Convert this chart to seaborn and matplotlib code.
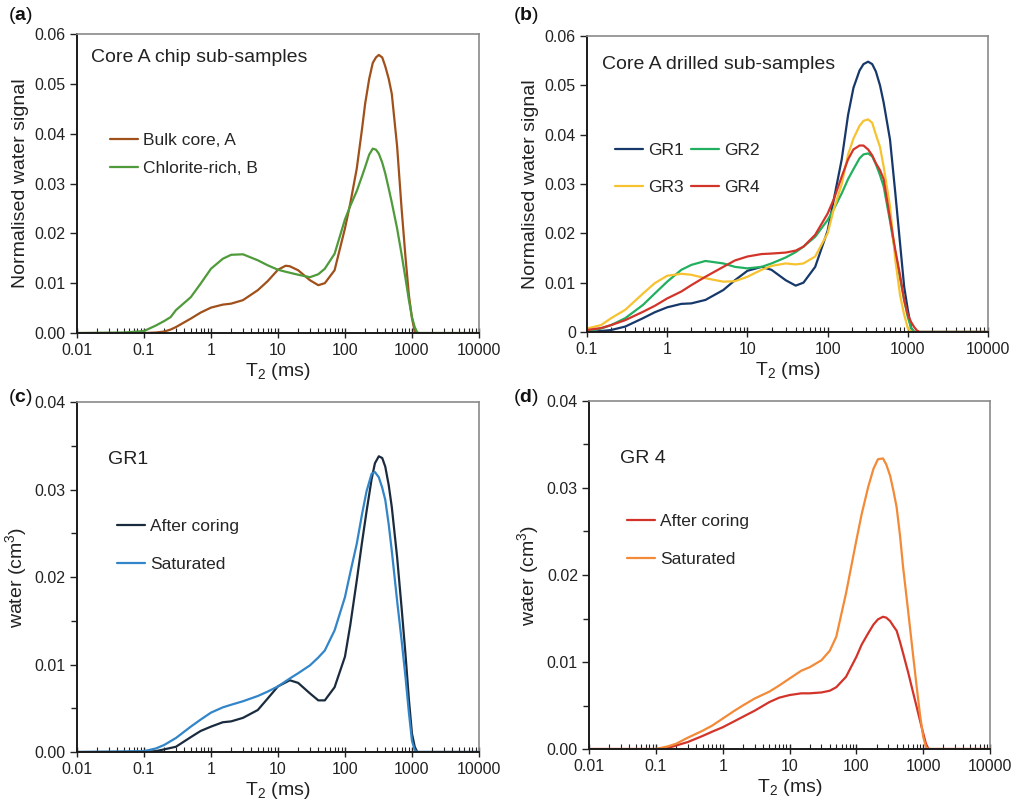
import numpy as np
import pandas as pd
import matplotlib
matplotlib.use("Agg")
import matplotlib.pyplot as plt
from matplotlib.ticker import LogLocator, NullFormatter, MultipleLocator
import seaborn as sns

# (a) chip sub-samples
t2_a = [0.01, 0.05, 0.1, 0.15, 0.2, 0.25, 0.3, 0.5, 0.7, 1, 1.5, 2, 3, 5, 7, 10, 13, 15, 20, 30, 40, 50,
        70, 100, 120, 150, 180, 200, 230, 260, 290, 320, 360, 400, 450, 500, 600, 700, 800, 900, 1000,
        1100, 1200, 1300, 10000]
bulk_a = [0, 0, 0, 0.0001, 0.0003, 0.0007, 0.0012, 0.0029, 0.0041, 0.0051, 0.0057, 0.0059, 0.0066, 0.0086,
          0.0104, 0.0127, 0.0135, 0.0134, 0.0126, 0.0106, 0.0096, 0.0100, 0.0126, 0.0210, 0.0260, 0.0330,
          0.0410, 0.0460, 0.0510, 0.0542, 0.0553, 0.0558, 0.0553, 0.0535, 0.0510, 0.0480, 0.0375, 0.0250,
          0.0153, 0.0076, 0.0030, 0.0003, 0, 0, 0]
chlorite_b = [0, 0.0001, 0.0004, 0.0015, 0.0024, 0.0032, 0.0046, 0.0072, 0.0099, 0.0129, 0.0149, 0.0157,
              0.0158, 0.0146, 0.0136, 0.0127, 0.0123, 0.0121, 0.0117, 0.0112, 0.0118, 0.0129, 0.0159,
              0.0228, 0.0255, 0.0285, 0.0315, 0.0333, 0.0358, 0.0370, 0.0368, 0.0360, 0.0342, 0.0320,
              0.0290, 0.0262, 0.0210, 0.0158, 0.0110, 0.0066, 0.0032, 0.0012, 0.0001, 0, 0]

# (b) drilled sub-samples
t2_b = [0.1, 0.15, 0.2, 0.3, 0.5, 0.7, 1, 1.5, 2, 3, 5, 7, 10, 15, 20, 30, 40, 50, 70, 100, 120, 150,
        180, 210, 250, 280, 320, 360, 400, 450, 500, 600, 700, 800, 900, 1000, 1100, 1200, 1300, 1400, 10000]
gr1 = [0, 0.0002, 0.0004, 0.0011, 0.0028, 0.0040, 0.0050, 0.0057, 0.0058, 0.0065, 0.0085, 0.0105, 0.0124,
       0.0132, 0.0126, 0.0105, 0.0094, 0.0100, 0.0132, 0.0205, 0.0270, 0.0350, 0.0440, 0.0495, 0.0530,
       0.0543, 0.0548, 0.0543, 0.0528, 0.0500, 0.0465, 0.0390, 0.0280, 0.0180, 0.0092, 0.0045, 0.0008,
       0, 0, 0, 0]
gr2 = [0.0002, 0.0007, 0.0014, 0.0028, 0.0055, 0.0078, 0.0102, 0.0126, 0.0136, 0.0144, 0.0139, 0.0132,
       0.0129, 0.0132, 0.0139, 0.0151, 0.0162, 0.0173, 0.0193, 0.0227, 0.0250, 0.0281, 0.0310, 0.0330,
       0.0352, 0.0360, 0.0362, 0.0356, 0.0340, 0.0318, 0.0295, 0.0225, 0.0160, 0.0110, 0.0065, 0.0030,
       0.0008, 0, 0, 0, 0]
gr3 = [0.0007, 0.0014, 0.0028, 0.0045, 0.0078, 0.0099, 0.0114, 0.0118, 0.0116, 0.0109, 0.0102, 0.0103,
       0.0112, 0.0126, 0.0134, 0.0139, 0.0137, 0.0139, 0.0153, 0.0200, 0.0250, 0.0300, 0.0360, 0.0392,
       0.0418, 0.0428, 0.0431, 0.0424, 0.0400, 0.0375, 0.0335, 0.0254, 0.0145, 0.0075, 0.0035, 0.0008,
       0, 0, 0, 0, 0]
gr4 = [0.0004, 0.0008, 0.0014, 0.0024, 0.0041, 0.0053, 0.0068, 0.0082, 0.0095, 0.0112, 0.0132, 0.0145,
       0.0153, 0.0158, 0.0159, 0.0161, 0.0165, 0.0173, 0.0197, 0.0240, 0.0270, 0.0315, 0.0350, 0.0370,
       0.0378, 0.0378, 0.0370, 0.0358, 0.0342, 0.0328, 0.0310, 0.0230, 0.0165, 0.0115, 0.0065, 0.0035,
       0.0020, 0.0010, 0.0003, 0, 0]

# (c) GR1 and (d) GR4, water volume
t2_cd = [0.01, 0.1, 0.15, 0.2, 0.3, 0.5, 0.7, 1, 1.5, 2, 3, 5, 7, 10, 15, 20, 30, 40, 50, 70, 100, 120,
         150, 180, 210, 250, 280, 320, 360, 400, 450, 500, 600, 700, 800, 900, 1000, 1100, 1200, 10000]
gr1_after = [0, 0, 0.0001, 0.0003, 0.0006, 0.0017, 0.0024, 0.0029, 0.0034, 0.0035, 0.0039, 0.0048, 0.0061,
             0.0075, 0.0082, 0.0079, 0.0067, 0.0059, 0.0059, 0.0074, 0.0109, 0.0145, 0.0196, 0.0240,
             0.0275, 0.0312, 0.0330, 0.0338, 0.0336, 0.0326, 0.0305, 0.0280, 0.0223, 0.0165, 0.0112,
             0.0060, 0.0021, 0.0006, 0, 0]
gr1_sat = [0, 0.0001, 0.0004, 0.0008, 0.0016, 0.0029, 0.0037, 0.0045, 0.0051, 0.0054, 0.0058, 0.0064,
           0.0069, 0.0075, 0.0084, 0.0090, 0.0099, 0.0108, 0.0116, 0.0139, 0.0177, 0.0205, 0.0238, 0.0272,
           0.0298, 0.0318, 0.0320, 0.0314, 0.0302, 0.0288, 0.0260, 0.0230, 0.0173, 0.0128, 0.0086, 0.0045,
           0.0013, 0.0002, 0, 0]
gr4_after = [0, 0, 0.0001, 0.0004, 0.0008, 0.0015, 0.0020, 0.0025, 0.0032, 0.0037, 0.0044, 0.0054, 0.0059,
             0.0062, 0.0064, 0.0064, 0.0065, 0.0067, 0.0071, 0.0083, 0.0106, 0.0120, 0.0133, 0.0143,
             0.0149, 0.0152, 0.0151, 0.0147, 0.0141, 0.0136, 0.0123, 0.0110, 0.0087, 0.0066, 0.0048,
             0.0032, 0.0018, 0.0006, 0, 0]
gr4_sat = [0, 0, 0.0003, 0.0006, 0.0013, 0.0021, 0.0027, 0.0035, 0.0044, 0.0050, 0.0058, 0.0066, 0.0073,
           0.0081, 0.0090, 0.0094, 0.0102, 0.0113, 0.0129, 0.0179, 0.0240, 0.0270, 0.0301, 0.0322, 0.0333,
           0.0334, 0.0327, 0.0314, 0.0296, 0.0278, 0.0245, 0.0209, 0.0156, 0.0110, 0.0071, 0.0038, 0.0014,
           0.0002, 0, 0]

sns.set_theme(style="ticks")
plt.rcParams['font.family'] = ['Liberation Sans', 'DejaVu Sans']
plt.rcParams['mathtext.fontset'] = 'custom'
plt.rcParams['mathtext.rm'] = 'Liberation Sans'
plt.rcParams['mathtext.it'] = 'Liberation Sans:italic'
plt.rcParams['mathtext.bf'] = 'Liberation Sans:bold'

fig = plt.figure(figsize=(10.21, 8.06), dpi=100)
ax_a = fig.add_axes([0.0754, 0.5868, 0.3937, 0.371])
ax_b = fig.add_axes([0.5749, 0.5881, 0.3928, 0.3672])
ax_c = fig.add_axes([0.0754, 0.067, 0.3937, 0.4342])
ax_d = fig.add_axes([0.5769, 0.0707, 0.3928, 0.4318])


def draw(ax, x, series, xlim, ylim, yticks, ylabels, ylabel, minor_y=None):
    for y, label, color in series:
        sns.lineplot(x=x, y=y, ax=ax, color=color, linewidth=1.6, label=label, sort=False)
    ax.set_xscale('log')
    ax.set_xlim(*xlim)
    ax.set_ylim(*ylim)
    ax.set_yticks(yticks)
    ax.set_yticklabels(ylabels, fontsize=11.5, color='#222222')
    if minor_y:
        ax.yaxis.set_minor_locator(MultipleLocator(minor_y))
    ax.xaxis.set_minor_locator(LogLocator(base=10, subs=np.arange(2, 10), numticks=20))
    ax.xaxis.set_minor_formatter(NullFormatter())
    decades = [v for v in [0.01, 0.1, 1, 10, 100, 1000, 10000] if xlim[0] <= v <= xlim[1]]
    ax.set_xticks(decades)
    ax.set_xticklabels([f"{v:g}" for v in decades], fontsize=11.5, color='#222222')
    ax.tick_params(axis='x', which='major', direction='inout', length=7, width=1, color='#222222', pad=4)
    ax.tick_params(axis='x', which='minor', direction='in', length=3.5, width=0.8, color='#222222')
    ax.tick_params(axis='y', which='major', direction='out', length=5, width=1, color='#222222', pad=3)
    ax.tick_params(axis='y', which='minor', direction='out', length=4, width=1, color='#222222')
    ax.set_xlabel(r"T$_\mathregular{2}$ (ms)", fontsize=14, labelpad=2, color='#222222')
    ax.set_ylabel(ylabel, fontsize=14, labelpad=4, color='#222222')
    for side in ['left', 'bottom']:
        ax.spines[side].set_color('#1a1a1a')
        ax.spines[side].set_linewidth(1.4)
    for side in ['top', 'right']:
        ax.spines[side].set_color('#8a8a8a')
        ax.spines[side].set_linewidth(1.2)


draw(ax_a, t2_a, [(bulk_a, "Bulk core, A", '#a0501a'), (chlorite_b, "Chlorite-rich, B", '#4f9a3a')],
     (0.01, 10000), (0, 0.06), [0, 0.01, 0.02, 0.03, 0.04, 0.05, 0.06],
     ["0.00", "0.01", "0.02", "0.03", "0.04", "0.05", "0.06"], "Normalised water signal")
draw(ax_b, t2_b, [(gr1, "GR1", '#17386b'), (gr2, "GR2", '#22b060'), (gr3, "GR3", '#f7c230'),
                  (gr4, "GR4", '#d3342a')],
     (0.1, 10000), (0, 0.06), [0, 0.01, 0.02, 0.03, 0.04, 0.05, 0.06],
     ["0", "0.01", "0.02", "0.03", "0.04", "0.05", "0.06"], "Normalised water signal")
draw(ax_c, t2_cd, [(gr1_after, "After coring", '#1b2b3e'), (gr1_sat, "Saturated", '#3185c8')],
     (0.01, 10000), (0, 0.04), [0, 0.01, 0.02, 0.03, 0.04],
     ["0.00", "0.01", "0.02", "0.03", "0.04"], r"water (cm$^\mathregular{3}$)", minor_y=0.005)
draw(ax_d, t2_cd, [(gr4_after, "After coring", '#d3342a'), (gr4_sat, "Saturated", '#f28a38')],
     (0.01, 10000), (0, 0.04), [0, 0.01, 0.02, 0.03, 0.04],
     ["0.00", "0.01", "0.02", "0.03", "0.04"], r"water (cm$^\mathregular{3}$)", minor_y=0.005)

leg_kw = dict(frameon=False, loc='center left', borderpad=0, borderaxespad=0, handlelength=1.6,
              handletextpad=0.3, fontsize=12.5)
ax_a.legend(bbox_to_anchor=(0.082, 0.597), labelspacing=0.75, **leg_kw)
h, l = ax_b.get_legend_handles_labels()
ax_b.legend([h[0], h[2], h[1], h[3]], [l[0], l[2], l[1], l[3]], ncol=2, columnspacing=0.4,
            bbox_to_anchor=(0.07, 0.551), labelspacing=1.3, **leg_kw)
ax_c.legend(bbox_to_anchor=(0.10, 0.59), labelspacing=1.3, **leg_kw)
ax_d.legend(bbox_to_anchor=(0.095, 0.60), labelspacing=1.3, **leg_kw)

ax_a.text(0.035, 0.923, "Core A chip sub-samples", transform=ax_a.transAxes, fontsize=14,
          va='center', color='#222222')
ax_b.text(0.037, 0.905, "Core A drilled sub-samples", transform=ax_b.transAxes, fontsize=14,
          va='center', color='#222222')
ax_c.text(0.078, 0.835, "GR1", transform=ax_c.transAxes, fontsize=14, va='center', color='#222222')
ax_d.text(0.077, 0.835, "GR 4", transform=ax_d.transAxes, fontsize=14, va='center', color='#222222')

for x, y, letter in [(0.008, 0.981, 'a'), (0.502, 0.981, 'b'), (0.008, 0.507, 'c'), (0.502, 0.507, 'd')]:
    fig.text(x, y, "(" + r"$\mathbf{" + letter + "}$" + ")", fontsize=14, va='center', ha='left',
             color='#111111')

fig.savefig("out.png", dpi=100)
plt.close(fig)
